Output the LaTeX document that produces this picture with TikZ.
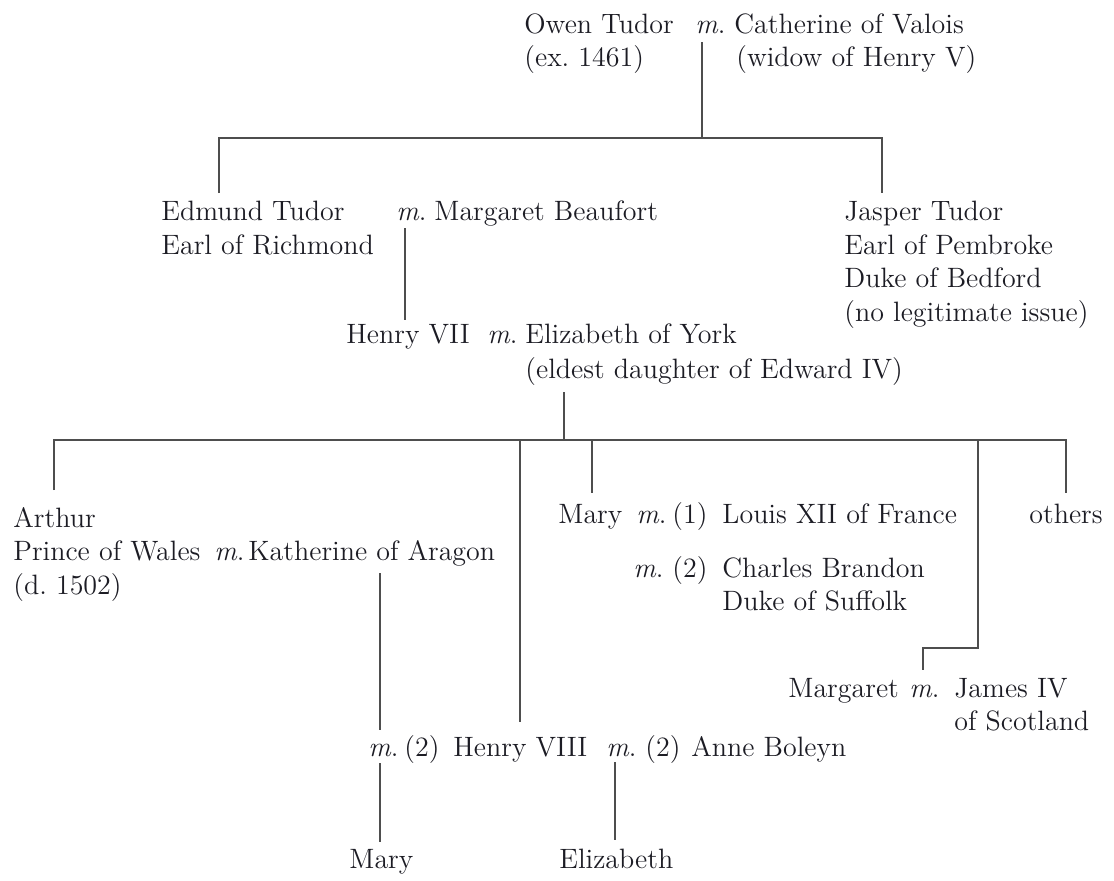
\documentclass[tikz,border=0pt]{standalone}
\begin{document}
\frenchspacing
\definecolor{ink}{HTML}{1C1C24}
\definecolor{rule}{HTML}{4E4E4E}
\begin{tikzpicture}[x=0.5pt,y=-0.5pt,
  txt/.style={anchor=base west,inner sep=0pt,text=ink,font=\fontsize{14}{16}\selectfont\frenchspacing},
  link/.style={draw=rule,line width=0.6pt}]
\useasboundingbox (0,0) rectangle (1114,880);
% generation 1
\node[txt] (owen) at (524,33) {Owen Tudor};
\node[txt] (owenm) at (695,33) {\textit{m}.};
\node[txt] (cath) at (734,33) {Catherine of Valois};
\node[txt] (owenex) at (524,66) {(ex. 1461)};
\node[txt] (cathw) at (736,66) {(widow of Henry V)};
% generation 2
\node[txt] (edm) at (161,220) {Edmund Tudor};
\node[txt] (edm2) at (161,254) {Earl of Richmond};
\node[txt] (edmm) at (396,220) {\textit{m}.};
\node[txt] (marg) at (434,220) {Margaret Beaufort};
\node[txt] (jas) at (844,220) {Jasper Tudor};
\node[txt] (jas2) at (844,254) {Earl of Pembroke};
\node[txt] (jas3) at (844,287) {Duke of Bedford};
\node[txt] (jas4) at (844,321) {(no legitimate issue)};
% generation 3
\node[txt] (h7) at (346,343) {Henry VII};
\node[txt] (h7m) at (487,343) {\textit{m}.};
\node[txt] (eliz) at (525,343) {Elizabeth of York};
\node[txt] (eliz2) at (525,378) {(eldest daughter of Edward IV)};
% generation 4
\node[txt] (art) at (13,527) {Arthur};
\node[txt] (art2) at (13,560) {Prince of Wales};
\node[txt] (art3) at (13,594) {(d. 1502)};
\node[txt] (artm) at (214,560) {\textit{m}.};
\node[txt] (kath) at (248,560) {Katherine of Aragon};
\node[txt] (mary) at (558,523) {Mary};
\node[txt] (marym1) at (636,523) {\textit{m}.};
\node[txt] (maryn1) at (672,523) {(1)};
\node[txt] (louis) at (722,523) {Louis XII of France};
\node[txt] (marym2) at (633,577) {\textit{m}.};
\node[txt] (maryn2) at (672,577) {(2)};
\node[txt] (charles) at (722,577) {Charles Brandon};
\node[txt] (charles2) at (722,610) {Duke of Suffolk};
\node[txt] (others) at (1029,523) {others};
\node[txt] (mgt) at (788,697) {Margaret};
\node[txt] (mgtm) at (909,697) {\textit{m}.};
\node[txt] (james) at (954,697) {James IV};
\node[txt] (james2) at (954,730) {of Scotland};
\node[txt] (h8m1) at (368,756) {\textit{m}.};
\node[txt] (h8n1) at (404,756) {(2)};
\node[txt] (h8) at (453,756) {Henry VIII};
\node[txt] (h8m2) at (606,756) {\textit{m}.};
\node[txt] (h8n2) at (645,756) {(2)};
\node[txt] (anne) at (691,756) {Anne Boleyn};
% generation 5
\node[txt] (maryT) at (349,868) {Mary};
\node[txt] (elizT) at (559,868) {Elizabeth};
% junction coordinates
\coordinate (a1) at (702,42);
\coordinate (a2) at (702,138);
\coordinate (b1) at (219,138);
\coordinate (b2) at (882,138);
\coordinate (b1d) at (219,193);
\coordinate (b2d) at (882,193);
\coordinate (c1) at (405,228);
\coordinate (c2) at (405,320);
\coordinate (d1) at (564,392);
\coordinate (d2) at (564,440);
\coordinate (e0) at (54,440);
\coordinate (e0d) at (54,490);
\coordinate (e1) at (520,440);
\coordinate (e1d) at (520,722);
\coordinate (e2) at (592,440);
\coordinate (e2d) at (592,493);
\coordinate (e3) at (978,440);
\coordinate (e3a) at (978,648);
\coordinate (e3b) at (923,648);
\coordinate (e3d) at (923,670);
\coordinate (e4) at (1066,440);
\coordinate (e4d) at (1066,493);
\coordinate (f1) at (380,573);
\coordinate (f2) at (380,730);
\coordinate (g1) at (380,763);
\coordinate (g2) at (380,842);
\coordinate (h1) at (615,762);
\coordinate (h2) at (615,840);
% connectors
\draw[link] (a1) -- (a2);
\draw[link] (b1d) -- (b1) -- (b2) -- (b2d);
\draw[link] (c1) -- (c2);
\draw[link] (d1) -- (d2);
\draw[link] (e0d) -- (e0) -- (e4) -- (e4d);
\draw[link] (e1) -- (e1d);
\draw[link] (e2) -- (e2d);
\draw[link] (e3) -- (e3a) -- (e3b) -- (e3d);
\draw[link] (f1) -- (f2);
\draw[link] (g1) -- (g2);
\draw[link] (h1) -- (h2);
\end{tikzpicture}
\end{document}
